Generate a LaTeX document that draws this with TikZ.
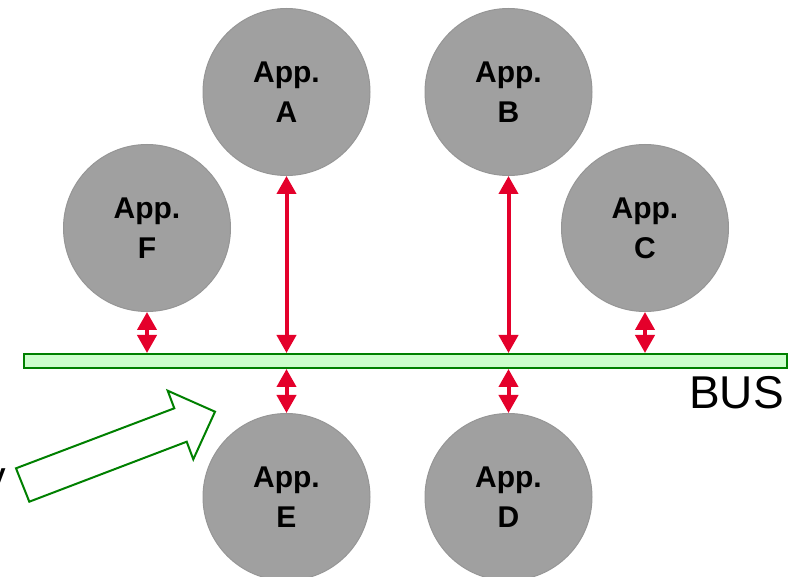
\documentclass[tikz,border=0pt]{standalone}
\usepackage{fontspec}
\setmainfont{Liberation Sans}
\usetikzlibrary{arrows.meta}

\definecolor{appgray}{RGB}{160,160,160}
\definecolor{appedge}{RGB}{150,150,150}
\definecolor{busfill}{RGB}{204,255,204}
\definecolor{busedge}{RGB}{0,128,0}
\definecolor{linkred}{RGB}{228,0,43}

\tikzset{
  app/.style={circle, fill=appgray, draw=appedge, line width=1pt,
    minimum size=167pt, inner sep=0pt, align=center,
    font=\bfseries\fontsize{30}{40}\selectfont},
  busbar/.style={rectangle, fill=busfill, draw=busedge, line width=2pt,
    minimum width=763pt, minimum height=14pt, inner sep=0pt},
  link/.style={draw=linkred, line width=4pt,
    {Triangle[width=19pt,length=18pt]}-{Triangle[width=19pt,length=18pt]}},
  blockarrow/.style={draw=busedge, fill=white, line width=2pt, line join=miter}
}

\begin{document}
\begin{tikzpicture}[x=1pt,y=-1pt]
  \useasboundingbox (0,0) rectangle (796,577);

  % applications
  \node[app] (A) at (286.5,92)  {App.\\A};
  \node[app] (B) at (508.5,92)  {App.\\B};
  \node[app] (F) at (147,228)   {App.\\F};
  \node[app] (C) at (645,228)   {App.\\C};
  \node[app] (E) at (286.5,497) {App.\\E};
  \node[app] (D) at (508.5,497) {App.\\D};

  % the shared bus
  \node[busbar] (bus) at (405.5,361) {};
  \node[anchor=base east, inner sep=0pt, font=\fontsize{46}{46}\selectfont]
    (buslabel) at (784,409) {BUS};

  % links between the applications and the bus
  \draw[link] (A.south) -- (A.south |- bus.north);
  \draw[link] (B.south) -- (B.south |- bus.north);
  \draw[link] (F.south) -- (F.south |- bus.north);
  \draw[link] (C.south) -- (C.south |- bus.north);
  \draw[link] (E.north) -- (E.north |- bus.south);
  \draw[link] (D.north) -- (D.north |- bus.south);

  % hollow block arrow pointing at the bus
  \draw[blockarrow] (29.3,501.7) -- (16,468.3) -- (174.3,408.3) -- (167.7,390.7)
    -- (215,411.7) -- (193.3,459.3) -- (186.7,441.7) -- cycle;

  % word running off the left edge
  \node[anchor=base east, inner sep=0pt, font=\bfseries\fontsize{28}{28}\selectfont]
    (edgeword) at (6,483) {y};
\end{tikzpicture}
\end{document}
